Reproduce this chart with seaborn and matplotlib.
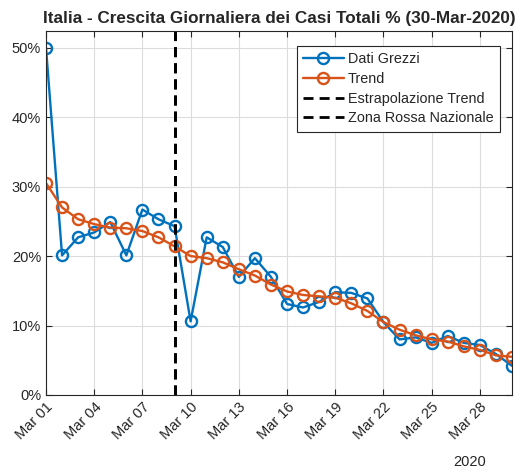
import matplotlib
matplotlib.use("Agg")
import matplotlib.pyplot as plt
import matplotlib.dates as mdates
from matplotlib.ticker import FuncFormatter
import pandas as pd
import seaborn as sns

days = pd.date_range("2020-03-01", "2020-03-30", freq="D")
raw = [50.0, 20.1, 22.7, 23.4, 24.9, 20.1, 26.7, 25.3, 24.3, 10.6,
       22.7, 21.3, 17.0, 19.7, 17.0, 13.1, 12.6, 13.4, 14.8, 14.7,
       13.9, 10.5, 8.0, 8.3, 7.5, 8.5, 7.5, 7.2, 5.9, 4.2]
trend = [30.5, 27.0, 25.3, 24.6, 24.1, 24.0, 23.6, 22.7, 21.4, 20.0,
         19.7, 19.1, 18.1, 17.2, 15.9, 14.9, 14.4, 14.2, 14.0, 13.2,
         12.1, 10.5, 9.4, 8.6, 8.0, 7.7, 7.0, 6.5, 5.7, 5.5]
extrap_day = pd.Timestamp("2020-03-09")
redzone_day = pd.Timestamp("2020-03-09")

df = pd.DataFrame({"date": days, "Dati Grezzi": raw, "Trend": trend})

sns.set_style("whitegrid")
plt.rcParams['font.family'] = ['Liberation Sans', 'DejaVu Sans']

fig = plt.figure(figsize=(5.24, 4.72), dpi=100)
ax = fig.add_axes([46 / 524, 1 - 395 / 472, 466 / 524, 364 / 472])

blue = "#0072BD"
orange = "#D95319"
sns.lineplot(data=df, x="date", y="Dati Grezzi", ax=ax, color=blue, marker="o",
             markersize=8, markerfacecolor="none", markeredgecolor=blue,
             markeredgewidth=1.7, linewidth=1.7, label="Dati Grezzi")
sns.lineplot(data=df, x="date", y="Trend", ax=ax, color=orange, marker="o",
             markersize=8, markerfacecolor="none", markeredgecolor=orange,
             markeredgewidth=1.7, linewidth=1.7, label="Trend")
ax.axvline(extrap_day, color="black", linestyle=(0, (3.6, 2.2)), linewidth=2, label="Estrapolazione Trend")
ax.axvline(redzone_day, color="black", linestyle=(0, (3.6, 2.2)), linewidth=2, label="Zona Rossa Nazionale")

ax.set_xlim(days[0], days[-1])
ax.set_ylim(0, 52.4)
ax.set_yticks([0, 10, 20, 30, 40, 50])
ax.yaxis.set_major_formatter(FuncFormatter(lambda v, p: f"{v:.0f}%"))
ax.set_xticks(days[::3])
ax.xaxis.set_major_formatter(mdates.DateFormatter("%b %d"))
plt.setp(ax.get_xticklabels(), rotation=45, ha="right", rotation_mode="anchor")
ax.tick_params(axis="both", labelsize=10.5, colors="#262626", direction="in",
               length=4, width=0.8, top=True, right=True, bottom=True, left=True)
ax.set_xlabel("")
ax.set_ylabel("")
ax.grid(True, color="#dcdcdc", linewidth=0.8)
for s in ax.spines.values():
    s.set_color("#262626")
    s.set_linewidth(0.8)

ax.set_title("Italia - Crescita Giornaliera dei Casi Totali % (30-Mar-2020)",
             fontsize=12.3, fontweight="bold", pad=6)
leg = ax.legend(loc="upper right", bbox_to_anchor=(0.99, 0.98), fontsize=10.4,
                frameon=True, fancybox=False, framealpha=1, edgecolor="#262626",
                handlelength=2.8, borderpad=0.45, labelspacing=0.4, handletextpad=0.3)
leg.get_frame().set_linewidth(0.8)
fig.text(470 / 524, 1 - 462 / 472, "2020", fontsize=10.5, ha="center", va="center", color="#262626")

fig.savefig("out.png", dpi=100)
